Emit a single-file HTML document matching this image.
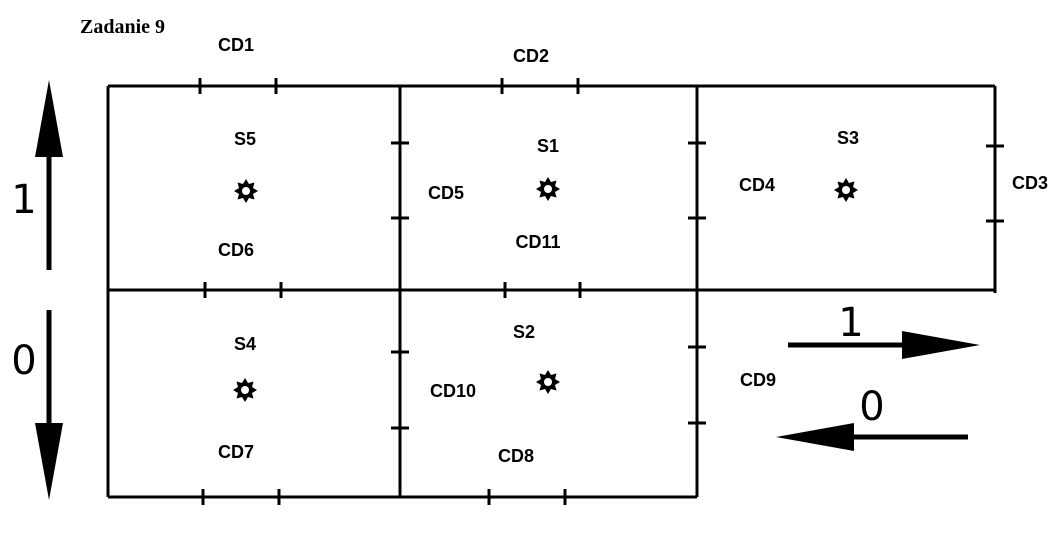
<!DOCTYPE html>
<html><head><meta charset="utf-8"><style>html,body{margin:0;padding:0;background:#fff}svg{display:block}</style></head>
<body>
<svg width="1056" height="554" viewBox="0 0 1056 554" xmlns="http://www.w3.org/2000/svg">
<defs>
<g id="st"><polygon fill="#000" points="0,-12 3,-7 8.5,-8.5 7,-3 12,0 7,3 8.5,8.5 3,7 0,12 -3,7 -8.5,8.5 -7,3 -12,0 -7,-3 -8.5,-8.5 -3,-7"/><circle r="4" fill="#fff"/></g>
</defs>
<g stroke="#000" stroke-width="3" fill="none">
<path d="M108,86H995M108,290H995M108,497H697M108,86V497M400,86V497M697,86V497M995,86V293"/>
<path d="M200,78V94M276,78V94M502,78V94M578,78V94M205,282V298M281,282V298M505,282V298M580,282V298M203,489V505M279,489V505M489,489V505M565,489V505"/>
<path d="M391,143H409M391,218H409M391,352H409M391,428H409M688,143H706M688,218H706M688,347H706M688,423H706M986,146H1004M986,221H1004"/>
<path d="M49,270V150M49,310V430M788,345H905M968,437H850" stroke-width="5"/>
</g>
<polygon points="49,80 35,157 63,157"/>
<polygon points="49,500 35,423 63,423"/>
<polygon points="980,345 902,331 902,359"/>
<polygon points="776,437 854,423 854,451"/>
<use href="#st" x="246" y="191"/><use href="#st" x="548" y="189"/><use href="#st" x="846" y="190"/><use href="#st" x="245" y="390"/><use href="#st" x="548" y="382"/>
<text x="80" y="33" font-family="Liberation Serif,serif" font-weight="bold" font-size="20">Zadanie 9</text>
<g font-family="Liberation Sans,sans-serif" font-weight="bold" font-size="18" text-anchor="middle">
<text x="236" y="51">CD1</text><text x="531" y="62">CD2</text><text x="1030" y="189">CD3</text>
<text x="757" y="191">CD4</text><text x="446" y="199">CD5</text><text x="236" y="256">CD6</text>
<text x="236" y="458">CD7</text><text x="516" y="462">CD8</text><text x="758" y="386">CD9</text>
<text x="453" y="397">CD10</text><text x="538" y="248">CD11</text>
<text x="245" y="145">S5</text><text x="548" y="152">S1</text><text x="848" y="144">S3</text>
<text x="245" y="350">S4</text><text x="524" y="338">S2</text>
</g>
<g font-family="DejaVu Sans,sans-serif" font-size="40" text-anchor="middle">
<text x="24" y="213">1</text><text x="24" y="374">0</text><text x="851" y="336">1</text><text x="872" y="420">0</text>
</g>
</svg>
</body></html>
